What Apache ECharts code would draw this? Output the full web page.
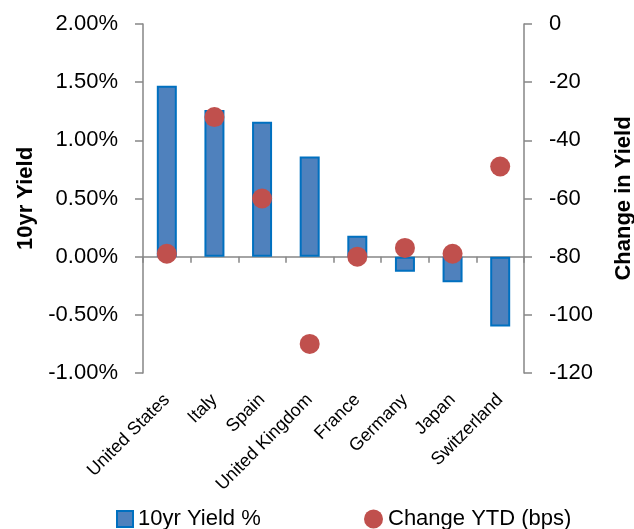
<!DOCTYPE html>
<html>
<head>
<meta charset="utf-8">
<script src="https://cdn.jsdelivr.net/npm/echarts@6/dist/echarts.min.js"></script>
<style>
html,body{margin:0;padding:0;background:#fff;}
#c{width:634px;height:529px;}
</style>
</head>
<body>
<div id="c"></div>
<script>
const categories = ['United States','Italy','Spain','United Kingdom','France','Germany','Japan','Switzerland'];
const yield10 = [1.47, 1.26, 1.16, 0.86, 0.18, -0.13, -0.22, -0.60];
const changeYTD = [-79, -32, -60, -110, -80, -77, -79, -49];
const leftTicks = {min: -1, max: 2, interval: 0.5};
const rightTicks = {min: -120, max: 0, interval: 20};

const FONT = '"Liberation Sans", Arial, sans-serif';
const AX = '#868686';
const chart = echarts.init(document.getElementById('c'), null, {renderer: 'canvas'});
chart.setOption({
  animation: false,
  backgroundColor: '#fff',
  textStyle: {fontFamily: FONT, color: '#000'},
  grid: {left: 143, right: 110, top: 24, bottom: 156, containLabel: false, outerBoundsMode: 'none'},
  legend: [
    {left: 116, top: 508, padding: 0, itemWidth: 16, itemHeight: 16, itemGap: 10,
     textStyle: {fontFamily: FONT, fontSize: 22, color: '#000'},
     data: [{name: '10yr Yield %', icon: 'rect'}]},
    {left: 364, top: 508, padding: 0, itemWidth: 19, itemHeight: 19, itemGap: 10,
     textStyle: {fontFamily: FONT, fontSize: 22, color: '#000'},
     data: [{name: 'Change YTD (bps)', icon: 'circle'}]}
  ],
  xAxis: [
    {type: 'category', data: categories, position: 'bottom',
     axisLine: {show: false, onZero: false}, axisTick: {show: false},
     axisLabel: {rotate: 45, margin: 24, fontSize: 18, fontFamily: FONT, color: '#000', interval: 0},
     splitLine: {show: false}},
    {type: 'category', data: categories, position: 'bottom',
     axisLine: {show: true, onZero: true, onZeroAxisIndex: 0, lineStyle: {color: AX, width: 1.5}},
     axisTick: {show: true, interval: 0, length: 6, lineStyle: {color: AX, width: 1.5}},
     axisLabel: {show: false, interval: 0}, splitLine: {show: false}}
  ],
  yAxis: [
    {type: 'value', position: 'left', min: leftTicks.min, max: leftTicks.max, interval: leftTicks.interval,
     name: '10yr Yield', nameLocation: 'middle', nameGap: 105, nameRotate: 90,
     nameTextStyle: {fontFamily: FONT, fontSize: 22, fontWeight: 'bold', color: '#000'},
     axisLine: {show: true, onZero: false, lineStyle: {color: AX, width: 1.5}},
     axisTick: {show: true, length: 8, lineStyle: {color: AX, width: 1.5}},
     axisLabel: {margin: 25, fontSize: 22, fontFamily: FONT, color: '#000',
       formatter: v => v.toFixed(2) + '%'},
     splitLine: {show: false}},
    {type: 'value', position: 'right', min: rightTicks.min, max: rightTicks.max, interval: rightTicks.interval,
     name: 'Change in Yield', nameLocation: 'middle', nameGap: 89, nameRotate: 90,
     nameTextStyle: {fontFamily: FONT, fontSize: 22, fontWeight: 'bold', color: '#000'},
     axisLine: {show: true, onZero: false, lineStyle: {color: AX, width: 1.5}},
     axisTick: {show: true, length: 8, lineStyle: {color: AX, width: 1.5}},
     axisLabel: {margin: 25, fontSize: 22, fontFamily: FONT, color: '#000'},
     splitLine: {show: false}}
  ],
  series: [
    {name: '10yr Yield %', type: 'bar', xAxisIndex: 0, yAxisIndex: 0, data: yield10, barWidth: 20,
     itemStyle: {color: '#4F81BD', borderColor: '#0070C0', borderWidth: 2}},
    {name: 'Change YTD (bps)', type: 'scatter', xAxisIndex: 0, yAxisIndex: 1, data: changeYTD,
     symbol: 'circle', symbolSize: 20, itemStyle: {color: '#C0504D', opacity: 1}, z: 5}
  ]
});
</script>
</body>
</html>
